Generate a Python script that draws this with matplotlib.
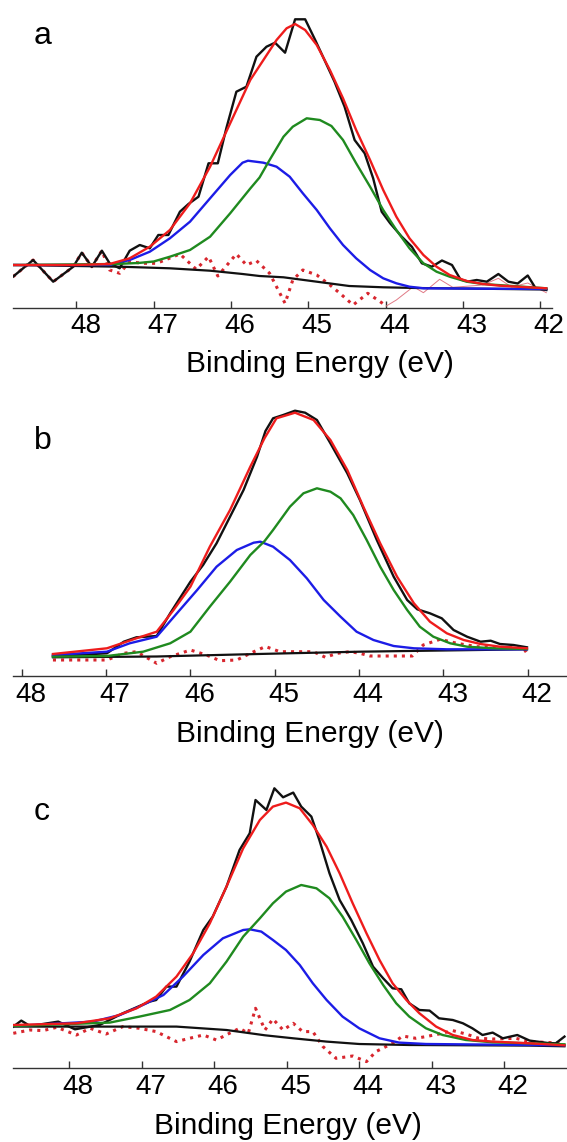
import numpy as np
from matplotlib import pyplot as plt
from matplotlib.transforms import ScaledTranslation

plt.rc('font', family=['Liberation Sans', 'DejaVu Sans'])

# ---------------- panel a (intensity in arbitrary units) ----------------
a_data_x = [48.82, 48.56, 48.30, 48.04, 47.93, 47.80, 47.67, 47.57, 47.44, 47.31,
            47.18, 47.05, 46.94, 46.81, 46.66, 46.55, 46.42, 46.29, 46.17, 46.06,
            45.93, 45.80, 45.67, 45.54, 45.43, 45.30, 45.17, 45.04, 44.91, 44.79,
            44.66, 44.53, 44.40, 44.27, 44.16, 44.05, 43.94, 43.79, 43.66, 43.53,
            43.40, 43.27, 43.14, 43.03, 42.93, 42.82, 42.69, 42.54, 42.41, 42.29,
            42.16, 42.06, 41.92]
a_data_y = [30.8, 47.5, 25.8, 40.8, 54.8, 40.8, 56.8, 44.2, 39.2, 56.8,
            62.5, 59.2, 72.5, 72.5, 95.8, 103.5, 110.8, 144.2, 144.2, 179.2,
            215.8, 220.8, 250.8, 260.8, 264.8, 254.8, 288.2, 288.2, 267.5, 247.5,
            225.8, 200.8, 167.5, 154.2, 129.2, 95.8, 84.2, 70.8, 60.8, 44.2,
            40.8, 47.0, 42.5, 28.0, 26.0, 27.5, 25.8, 33.5, 25.8, 24.0,
            32.0, 19.5, 17.5]
a_fit_x = [48.82, 48.00, 47.57, 47.31, 47.05, 46.79, 46.53, 46.27, 46.01, 45.75,
           45.58, 45.41, 45.28, 45.17, 45.04, 44.89, 44.72, 44.55, 44.38, 44.20,
           44.03, 43.86, 43.69, 43.51, 43.34, 43.17, 42.95, 42.74, 42.52, 41.92]
a_fit_y = [42.5, 42.5, 43.5, 49.2, 60.8, 77.5, 104.2, 140.8, 184.2, 227.5,
           247.5, 267.5, 279.2, 283.5, 277.5, 262.5, 237.5, 209.2, 177.5, 147.5,
           117.5, 90.8, 69.2, 52.5, 40.8, 32.5, 26.5, 23.5, 21.8, 19.2]
a_blue_x = [48.82, 47.57, 47.31, 47.05, 46.79, 46.53, 46.27, 46.01, 45.85, 45.78,
            45.65, 45.58, 45.41, 45.24, 45.07, 44.89, 44.72, 44.55, 44.38, 44.20,
            44.03, 43.86, 43.69, 43.51, 41.92]
a_blue_y = [42.5, 42.5, 47.5, 55.8, 69.2, 85.8, 109.2, 132.5, 144.8, 146.8,
            145.5, 144.8, 140.8, 130.8, 114.2, 97.5, 79.2, 62.5, 49.2, 37.5,
            29.2, 24.2, 20.8, 19.2, 18.5]
a_green_x = [48.82, 47.50, 47.20, 47.00, 46.79, 46.53, 46.27, 46.01, 45.75, 45.63,
             45.50, 45.32, 45.20, 45.02, 44.85, 44.70, 44.55, 44.38, 44.20, 44.03,
             43.86, 43.69, 43.51, 43.34, 43.17, 42.95, 42.74, 41.92]
a_green_y = [42.5, 43.5, 44.5, 46.0, 50.8, 57.5, 70.8, 94.2, 119.0, 130.0,
             147.5, 170.8, 180.8, 189.2, 187.5, 181.5, 167.5, 144.2, 120.8, 97.5,
             77.5, 59.2, 44.2, 35.8, 30.8, 25.8, 23.5, 19.2]
a_bg_x = [48.82, 47.44, 46.79, 46.27, 45.85, 45.63, 45.32, 44.89, 44.47, 44.03, 43.60, 41.92]
a_bg_y = [42.5, 40.8, 39.2, 36.8, 33.5, 31.5, 30.2, 25.8, 21.5, 20.2, 19.5, 18.0]
a_res_x = [48.82, 48.56, 48.30, 48.04, 47.93, 47.80, 47.67, 47.57, 47.44, 47.31,
           47.14, 46.96, 46.66, 46.45, 46.29, 46.17, 45.93, 45.80, 45.67, 45.50,
           45.30, 45.20, 45.07, 44.89, 44.72, 44.59, 44.42, 44.23, 44.10, 43.99,
           43.86, 43.64, 43.51, 43.30, 43.13, 42.91, 42.74, 42.54, 42.37, 42.16,
           41.92]
a_res_y = [30.8, 47.5, 25.8, 40.8, 54.8, 40.8, 56.8, 37.5, 34.2, 45.8,
           44.2, 44.2, 53.5, 38.2, 50.8, 31.5, 53.5, 42.5, 46.8, 34.2,
           4.2, 27.5, 37.5, 32.5, 22.5, 14.2, 2.5, 14.2, 7.5, 1.5,
           7.5, 20.8, 14.8, 28.2, 20.2, 21.5, 22.5, 29.2, 20.5, 24.5,
           14.8]

# ---------------- panel b ----------------
b_data_x = [47.63, 46.99, 46.79, 46.64, 46.40, 46.24, 46.00, 45.85, 45.69, 45.53,
            45.37, 45.21, 45.11, 45.02, 44.90, 44.76, 44.64, 44.50, 44.34, 44.14,
            43.99, 43.79, 43.59, 43.43, 43.31, 43.16, 43.02, 42.88, 42.72, 42.56,
            42.44, 42.33, 42.17, 42.01]
b_data_y = [20.0, 22.7, 34.3, 38.7, 40.0, 62.7, 94.3, 111.0, 132.7, 159.3,
            186.0, 219.3, 245.0, 257.7, 261.0, 265.3, 263.3, 256.0, 232.7, 202.7,
            176.0, 136.0, 99.3, 76.0, 66.7, 62.7, 57.7, 46.0, 39.3, 34.3,
            35.3, 32.0, 31.0, 28.7]
b_fit_x = [47.63, 46.99, 46.64, 46.40, 46.20, 46.00, 45.77, 45.53, 45.29, 45.12,
           44.98, 44.76, 44.54, 44.34, 44.14, 43.95, 43.75, 43.55, 43.35, 43.16,
           42.96, 42.76, 42.56, 42.33, 42.01]
b_fit_y = [22.0, 27.7, 37.7, 44.3, 66.0, 89.3, 129.3, 166.0, 209.3, 238.0,
           257.7, 263.3, 256.0, 236.0, 206.0, 169.3, 132.7, 99.3, 72.7, 54.3,
           42.7, 36.0, 32.0, 29.3, 27.7]
b_blue_x = [47.63, 46.99, 46.72, 46.40, 46.16, 45.92, 45.69, 45.45, 45.25, 45.17,
            45.02, 44.82, 44.62, 44.42, 44.22, 44.03, 43.83, 43.59, 43.35, 42.96,
            42.01]
b_blue_y = [21.0, 24.3, 32.7, 39.3, 62.7, 86.0, 109.3, 126.0, 133.3, 134.3,
            129.3, 116.0, 97.7, 76.0, 59.3, 44.3, 36.0, 30.0, 27.7, 26.7,
            26.7]
b_green_x = [47.63, 46.99, 46.56, 46.24, 46.00, 45.77, 45.53, 45.29, 45.12, 45.02,
             44.82, 44.66, 44.50, 44.34, 44.22, 44.07, 43.91, 43.75, 43.59, 43.43,
             43.28, 43.12, 42.92, 42.72, 42.41, 42.01]
b_green_y = [19.3, 20.0, 24.3, 32.7, 44.3, 69.3, 94.3, 121.0, 135.0, 146.0,
             169.3, 182.7, 187.7, 184.3, 177.7, 161.0, 136.0, 109.3, 86.0, 66.0,
             49.3, 39.3, 32.7, 29.3, 27.7, 27.0]
b_bg_x = [47.63, 46.40, 45.20, 44.00, 42.01]
b_bg_y = [18.7, 19.5, 22.0, 24.3, 26.7]
b_res_x = [47.63, 46.99, 46.79, 46.64, 46.40, 46.24, 46.00, 45.81, 45.65, 45.45,
           45.29, 45.11, 44.94, 44.54, 44.40, 44.26, 44.11, 43.99, 43.87, 43.37,
           43.24, 43.04, 42.84, 42.60, 42.33, 42.05, 42.01]
b_res_y = [16.0, 16.0, 22.7, 24.3, 12.7, 19.3, 26.0, 21.0, 15.3, 16.0,
           22.7, 29.5, 24.3, 24.3, 18.7, 22.7, 24.3, 22.7, 20.0, 20.0,
           31.0, 36.7, 32.7, 29.3, 28.7, 27.7, 22.7]

# ---------------- panel c ----------------
c_data_x = [48.77, 48.66, 48.54, 48.15, 47.92, 47.58, 47.26, 46.89, 46.80, 46.66,
            46.52, 46.34, 46.15, 46.02, 45.83, 45.65, 45.51, 45.43, 45.28, 45.17,
            45.05, 44.91, 44.80, 44.66, 44.55, 44.41, 44.27, 44.11, 43.95, 43.81,
            43.67, 43.54, 43.42, 43.31, 43.17, 43.03, 42.90, 42.71, 42.57, 42.44,
            42.30, 42.16, 42.02, 41.82, 41.65, 41.40, 41.29, 41.17]
c_data_y = [41.7, 47.7, 42.3, 46.7, 39.0, 43.3, 55.0, 66.7, 68.3, 81.7,
            81.7, 106.7, 138.3, 151.7, 181.7, 218.3, 235.0, 268.3, 258.3, 280.0,
            271.0, 275.7, 261.7, 251.7, 228.3, 195.0, 168.3, 148.3, 125.0, 101.7,
            90.0, 80.0, 79.0, 65.0, 58.3, 57.7, 50.0, 48.3, 45.0, 40.0,
            33.3, 35.7, 30.0, 33.3, 27.7, 25.3, 25.0, 31.7]
c_fit_x = [48.77, 47.90, 47.44, 47.07, 46.80, 46.52, 46.29, 46.06, 45.83, 45.60,
           45.37, 45.19, 45.01, 44.82, 44.64, 44.45, 44.27, 44.09, 43.90, 43.72,
           43.54, 43.35, 43.17, 42.94, 42.71, 42.44, 42.16, 41.65, 41.17]
c_fit_y = [43.3, 45.0, 50.0, 60.0, 71.7, 91.7, 115.0, 145.0, 181.7, 220.0,
           248.3, 261.7, 265.7, 260.0, 243.3, 221.7, 195.0, 165.0, 135.0, 108.3,
           85.0, 68.3, 55.0, 41.7, 33.3, 28.3, 26.7, 25.0, 23.0]
c_blue_x = [48.77, 47.67, 47.30, 47.03, 46.70, 46.43, 46.15, 45.88, 45.60, 45.51,
            45.35, 45.19, 45.01, 44.82, 44.64, 44.45, 44.23, 44.00, 43.72, 43.45,
            43.08, 41.65, 41.17]
c_blue_y = [42.3, 46.7, 53.3, 61.7, 73.3, 91.7, 113.3, 130.0, 138.3, 139.0,
            136.7, 128.3, 118.3, 103.3, 85.0, 68.3, 51.7, 40.0, 30.0, 25.7,
            24.3, 23.3, 23.0]
c_green_x = [48.77, 47.44, 47.03, 46.61, 46.34, 46.06, 45.83, 45.60, 45.37, 45.19,
             45.01, 44.80, 44.59, 44.41, 44.23, 44.04, 43.86, 43.67, 43.49, 43.31,
             43.08, 42.85, 42.53, 42.16, 41.65, 41.17]
c_green_y = [42.3, 45.7, 51.7, 58.3, 68.3, 85.0, 106.7, 131.7, 150.0, 165.0,
             176.7, 183.3, 180.0, 170.0, 151.7, 128.3, 105.0, 83.3, 65.0, 51.7,
             40.0, 33.3, 28.3, 26.0, 25.0, 24.0]
c_bg_x = [48.77, 46.52, 45.83, 45.30, 44.91, 44.45, 44.00, 43.31, 41.65, 41.17]
c_bg_y = [41.7, 41.7, 38.3, 33.0, 30.0, 26.7, 24.3, 23.3, 22.7, 22.0]
c_res_x = [48.77, 48.54, 48.36, 48.17, 47.90, 47.71, 47.49, 47.26, 47.03, 46.80,
           46.52, 46.34, 46.15, 45.97, 45.79, 45.65, 45.53, 45.43, 45.30, 45.19,
           45.05, 44.91, 44.78, 44.64, 44.50, 44.32, 44.09, 43.90, 43.77, 43.54,
           43.40, 43.22, 43.08, 42.90, 42.71, 42.53, 42.35, 42.16, 41.84, 41.65,
           41.17]
c_res_y = [35.0, 38.3, 37.7, 41.0, 33.3, 40.0, 34.3, 41.7, 40.0, 36.7,
           26.7, 30.0, 33.3, 28.3, 35.0, 40.0, 35.0, 60.0, 38.3, 49.3,
           38.3, 45.0, 36.7, 36.7, 21.7, 10.0, 12.3, 6.7, 16.7, 25.0,
           32.3, 30.0, 31.7, 34.3, 37.7, 34.3, 30.0, 29.3, 30.0, 26.7,
           25.0]

ticks = [48, 47, 46, 45, 44, 43, 42]
xlabel = 'Binding Energy (eV)'

W, H = 567, 1142
fig = plt.figure(figsize=(W / 100, H / 100), dpi=100)

red = '#ee1c1c'
blue = '#1c1ce6'
green = '#1f8a1f'
resc = '#d8262e'


def add_panel(box, xlim, letter, letter_xy, label_xy, d, fit, blue_c, green_c, bg, res,
              thin_from=None):
    l, r, t, b = box
    ax = fig.add_axes([l / W, 1 - b / H, (r - l) / W, (b - t) / H])
    rx, ry = np.array(res[0]), np.array(res[1])
    if thin_from is None:
        ax.plot(rx, ry, ':', color=resc, lw=2.2)
    else:
        m = rx >= thin_from
        ax.plot(rx[m], ry[m], ':', color=resc, lw=2.2)
        k = m.sum() - 1
        ax.plot(rx[k:], ry[k:], '-', color='#e07a86', lw=0.7)
    ax.plot(*bg, color='#111', lw=1.6)
    ax.plot(*d, color='#111', lw=1.7)
    ax.plot(*blue_c, color=blue, lw=1.7)
    ax.plot(*green_c, color=green, lw=1.7)
    ax.plot(*fit, color=red, lw=1.7)

    ax.set_xlim(*xlim)
    ax.set_ylim(0, b - t)
    for s in ['left', 'right', 'top']:
        ax.spines[s].set_visible(False)
    ax.spines['bottom'].set_linewidth(1.0)
    ax.spines['bottom'].set_color('#333')
    ax.set_yticks([])
    ax.set_xticks(ticks)
    ax.tick_params(axis='x', direction='in', length=5, width=1.0, color='#333',
                   labelsize=20, pad=4)
    offset = ScaledTranslation(9 / 100, 0, fig.dpi_scale_trans)
    for lbl in ax.get_xticklabels():
        lbl.set_transform(lbl.get_transform() + offset)
    ax.patch.set_alpha(0)

    fig.text(letter_xy[0] / W, 1 - letter_xy[1] / H, letter, fontsize=23,
             ha='center', va='center')
    fig.text(label_xy[0] / W, 1 - label_xy[1] / H, xlabel, fontsize=21.5,
             ha='center', va='center')
    return ax


add_panel((13, 551.7, 10, 307.5), (48.82, 41.85), 'a', (42.7, 36), (320, 364),
          (a_data_x, a_data_y), (a_fit_x, a_fit_y), (a_blue_x, a_blue_y),
          (a_green_x, a_green_y), (a_bg_x, a_bg_y), (a_res_x, a_res_y),
          thin_from=43.99)
add_panel((13.3, 567, 400, 676), (48.10, 41.535), 'b', (43.3, 441), (310, 734),
          (b_data_x, b_data_y), (b_fit_x, b_fit_y), (b_blue_x, b_blue_y),
          (b_green_x, b_green_y), (b_bg_x, b_bg_y), (b_res_x, b_res_y))
add_panel((13.3, 567, 780, 1068.3), (48.77, 41.135), 'c', (41.7, 812), (288, 1126),
          (c_data_x, c_data_y), (c_fit_x, c_fit_y), (c_blue_x, c_blue_y),
          (c_green_x, c_green_y), (c_bg_x, c_bg_y), (c_res_x, c_res_y))

plt.savefig('out.png', dpi=100, facecolor='white')
